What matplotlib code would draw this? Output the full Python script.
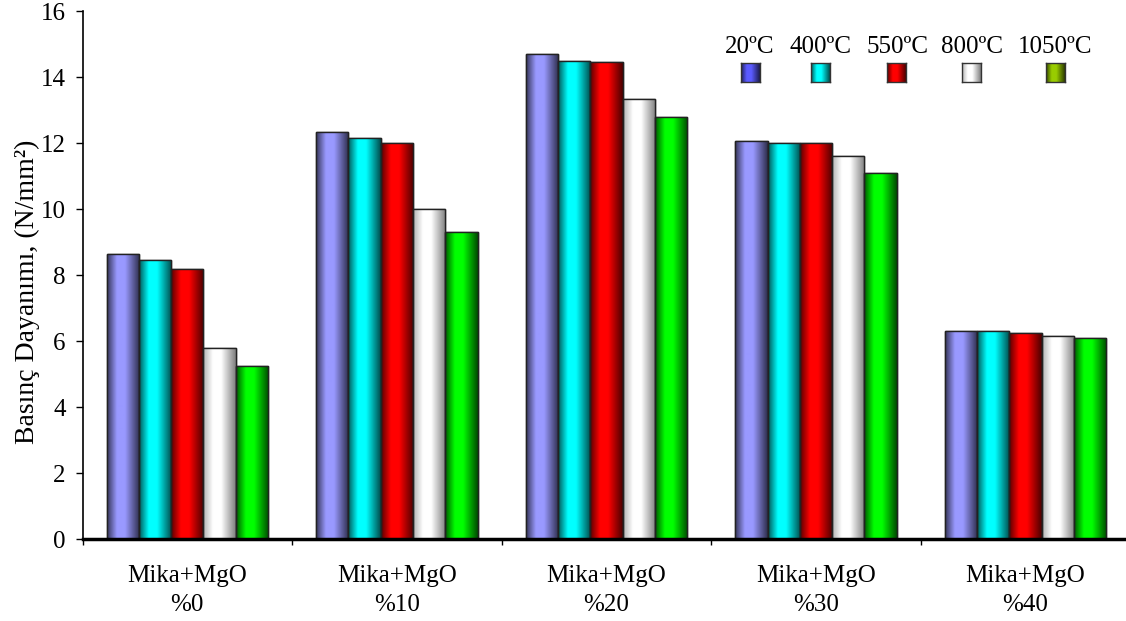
import numpy as np
import matplotlib.pyplot as plt
from matplotlib.patches import Rectangle

plt.rcParams['font.family'] = ['Liberation Serif', 'DejaVu Serif']
plt.rcParams['mathtext.fontset'] = 'stix'

# compressive strength of Mika+MgO mixes after firing
groups = ['Mika+MgO\n%0', 'Mika+MgO\n%10', 'Mika+MgO\n%20', 'Mika+MgO\n%30', 'Mika+MgO\n%40']
temps = ['20ºC', '400ºC', '550ºC', '800ºC', '1050ºC']
t20 = [8.65, 12.35, 14.70, 12.05, 6.30]
t400 = [8.45, 12.15, 14.50, 12.00, 6.30]
t550 = [8.20, 12.00, 14.45, 12.00, 6.25]
t800 = [5.80, 10.00, 13.35, 11.60, 6.15]
t1050 = [5.25, 9.30, 12.80, 11.10, 6.10]
series = [t20, t400, t550, t800, t1050]

bar_colors = ['#9999ff', '#00ffff', '#ff0000', '#ffffff', '#00ff00']
key_colors = ['#5b5bff', '#00ffff', '#ff0000', '#ffffff', '#99cc00']


def shade(color, n=64):
    # cylinder-like horizontal gradient: dark edge, bright band, dark edge
    t = np.linspace(0, 1, n)
    f = np.interp(t, [0, 0.3, 0.55, 1], [0.35, 1.0, 1.0, 0.3])
    rgb = np.array(plt.matplotlib.colors.to_rgb(color))
    if rgb.min() > 0.9:
        f = np.interp(t, [0, 0.3, 0.55, 1], [0.7, 1.0, 1.0, 0.5])
    return (f[:, None] * rgb[None, :])[None, :, :]


fig = plt.figure(figsize=(11.26, 6.21), dpi=100)
ax = fig.add_axes([0.0733, 0.132, 0.9305, 0.850])

w = 0.154
x = np.arange(len(groups)) + 0.5
for j, vals in enumerate(series):
    bars = ax.bar(x + (j - 2) * w, vals, width=w, color=bar_colors[j],
                  edgecolor='#222222', linewidth=1.0, zorder=2)
    for b in bars:
        x0, y0 = b.get_x(), b.get_y()
        im = ax.imshow(shade(bar_colors[j]), aspect='auto', interpolation='bilinear',
                       extent=(x0, x0 + b.get_width(), y0, y0 + b.get_height()), zorder=2)
        im.set_clip_path(b)
    for b in bars:
        ax.add_patch(Rectangle((b.get_x(), b.get_y()), b.get_width(), b.get_height(),
                               fill=False, edgecolor='#222222', linewidth=1.0, zorder=3))

ax.set_xlim(0, 5)
ax.set_ylim(0, 16)
ax.set_yticks(np.arange(0, 17, 2))
ax.set_xticks(np.arange(0, 6))
ax.set_xticklabels([])
ax.set_xticks(x, minor=True)
ax.set_xticklabels(groups, minor=True, fontsize=18, linespacing=1.4,
                   family='Liberation Serif')
ax.tick_params(axis='x', which='minor', length=0, pad=19)
ax.tick_params(axis='x', which='major', length=4, width=1, direction='out')
ax.tick_params(axis='y', length=5, width=1, labelsize=18, pad=7)
for lab in ax.get_yticklabels():
    lab.set_family('Liberation Serif')

for s in ['top', 'right']:
    ax.spines[s].set_visible(False)
ax.spines['left'].set_linewidth(1.2)
ax.spines['bottom'].set_linewidth(2.5)
ax.spines['bottom'].set_zorder(4)

ax.set_ylabel('Basınç Dayanımı, (N/mm²)', fontsize=20, family='Liberation Serif')
ax.yaxis.set_label_coords(-0.053, 0.468)
ax.yaxis.label.set_va('center')

# temperature key: labels above small shaded squares
key_x = [750, 821, 897, 972, 1055]
for k, (lab, c) in enumerate(zip(temps, key_colors)):
    fx = key_x[k] / 1126
    fig.text(fx, 1 - 47 / 621, lab, fontsize=18, ha='center', va='center')
    sw, sh = 19 / 1126, 19 / 621
    kax = fig.add_axes([fx - sw / 2, 1 - 82 / 621, sw, sh])
    kax.imshow(shade(c), aspect='auto', interpolation='bilinear', extent=(0, 1, 0, 1))
    kax.set_xticks([])
    kax.set_yticks([])
    for sp in kax.spines.values():
        sp.set_edgecolor('#333333')
        sp.set_linewidth(1.0)

fig.savefig('out.png', dpi=100)
